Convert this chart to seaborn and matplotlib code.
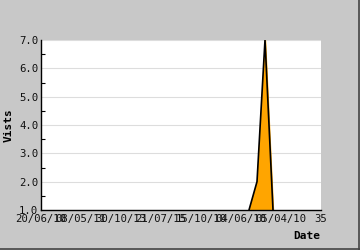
import matplotlib
matplotlib.use("Agg")
import matplotlib.pyplot as plt
import seaborn as sns
import pandas as pd
import numpy as np
from matplotlib.lines import Line2D

x_vals = [26, 27, 28, 29]
visits = [1, 2, 7, 1]
x_ticks = [0, 5, 10, 15, 20, 25, 30, 35]
x_labels = ["20/06/10", "08/05/11", "30/10/13", "21/07/15", "15/10/10", "04/06/10", "05/04/10", "35"]
y_ticks = [1, 2, 3, 4, 5, 6, 7]

sns.set_theme(style="white")
plt.rcParams['font.family'] = ['DejaVu Sans Mono', 'DejaVu Sans']

fig = plt.figure(figsize=(3.6, 2.5), dpi=100, facecolor="#c8c8c8")
ax = fig.add_axes([41/360, 40/250, 280/360, 170/250])
ax.set_facecolor("white")

df = pd.DataFrame({"x": x_vals, "y": visits})
ax.fill_between(df["x"], 1, df["y"], color="#ffa500", zorder=2)
sns.lineplot(data=df, x="x", y="y", ax=ax, color="black", linewidth=1.2, zorder=3)

ax.set_xlim(0, 35)
ax.set_ylim(1, 7)
ax.set_yticks(y_ticks)
ax.set_yticklabels([f"{v:.1f}" for v in y_ticks])
ax.set_yticks(np.arange(1.5, 7, 1), minor=True)
ax.set_xticks(x_ticks)
ax.set_xticklabels(x_labels)
ax.grid(axis="y", which="major", color="#dddddd", linewidth=0.8, zorder=0)
ax.tick_params(axis="both", which="major", direction="in", length=4, width=0.8, color="black",
               labelsize=7.7, labelcolor="#111111", pad=2)
ax.tick_params(axis="y", which="minor", direction="in", length=3, width=0.8, color="black", left=True)
ax.tick_params(axis="x", pad=3)
for s in ["top", "right"]:
    ax.spines[s].set_visible(False)
for s in ["left", "bottom"]:
    ax.spines[s].set_color("black")
    ax.spines[s].set_linewidth(1)

ax.set_xlabel("")
ax.set_ylabel("")
fig.text(9/360, 1 - 125/250, "Vists", rotation=90, ha="center", va="center",
         fontsize=8, fontweight="bold", color="black")
fig.text(320/360, 1 - 236/250, "Date", ha="right", va="center",
         fontsize=8, fontweight="bold", color="black")

fig.lines.append(Line2D([0, 1], [0.6/250, 0.6/250], transform=fig.transFigure, color="#444444", linewidth=1.2))
fig.lines.append(Line2D([1 - 0.6/360, 1 - 0.6/360], [0, 1], transform=fig.transFigure, color="#444444", linewidth=1.2))

fig.savefig("out.png", dpi=100, facecolor=fig.get_facecolor())
